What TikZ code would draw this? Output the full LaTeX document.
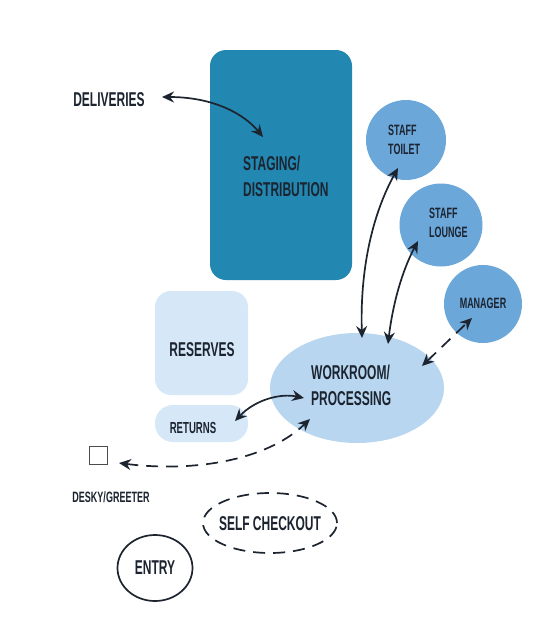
\documentclass[tikz,border=0pt]{standalone}
\usepackage{fontspec}
\setmainfont{Liberation Sans}[FakeStretch=0.6]
\usetikzlibrary{arrows.meta,shapes.geometric}
\definecolor{staging}{RGB}{34,136,178}
\definecolor{staff}{RGB}{108,167,218}
\definecolor{work}{RGB}{184,214,240}
\definecolor{pale}{RGB}{214,232,248}
\definecolor{ink}{RGB}{28,36,48}
\tikzset{
  lbl/.style={text=ink,font=\bfseries\fontsize{20}{26}\selectfont,align=left,inner sep=0pt},
  slbl/.style={text=ink,font=\bfseries\fontsize{15}{19}\selectfont,align=left,inner sep=0pt},
  conn/.style={draw=ink,line width=1.7pt,{Stealth[length=12pt,width=11pt,inset=4pt]}-{Stealth[length=12pt,width=11pt,inset=4pt]}},
  dconn/.style={conn,dash pattern=on 12pt off 8pt},
}
\begin{document}
\begin{tikzpicture}[x=1pt,y=-1pt]
\useasboundingbox[fill=white] (0,0) rectangle (551,619);
% shapes
\fill[staging,rounded corners=16pt] (210,50) rectangle (352,280);
\fill[pale,rounded corners=16pt] (155,291) rectangle (248,395);
\fill[pale,rounded corners=18pt] (155,405) rectangle (248,442);
\node[circle,fill=staff,minimum size=80pt,inner sep=0pt] (toilet) at (406,140) {};
\node[circle,fill=staff,minimum size=83pt,inner sep=0pt] (lounge) at (441,225) {};
\node[circle,fill=staff,minimum size=78pt,inner sep=0pt] (manager) at (483,304) {};
\node[ellipse,fill=work,minimum width=174pt,minimum height=110pt,inner sep=0pt] (work) at (357,388) {};
\node[ellipse,draw=ink,line width=1.7pt,dash pattern=on 12pt off 8pt,minimum width=134pt,minimum height=60pt,inner sep=0pt] (self) at (270,523) {};
\node[ellipse,draw=ink,line width=1.7pt,minimum width=75pt,minimum height=66pt,inner sep=0pt] (entry) at (155,568) {};
\node[draw=black!70,line width=0.8pt,minimum size=18pt,inner sep=0pt] (desk) at (98,455) {};
% texts
\node[lbl] (deliv) at (109,100) {DELIVERIES};
\node[lbl,anchor=west] (stag) at (243,176) {STAGING/\\DISTRIBUTION};
\node[lbl] (res) at (202,350) {RESERVES};
\node[slbl,font=\bfseries\fontsize{16}{19}\selectfont] (ret) at (193,428) {RETURNS};
\node[lbl,anchor=west] (worktxt) at (311,385) {WORKROOM/\\PROCESSING};
\node[slbl,anchor=west] (toilettxt) at (388,140) {STAFF\\TOILET};
\node[slbl,anchor=west] (loungetxt) at (429,223) {STAFF\\LOUNGE};
\node[slbl] (mantxt) at (483,303) {MANAGER};
\node[slbl] (desktxt) at (111,497) {DESKY/GREETER};
\node[lbl] (selftxt) at (270,524) {SELF CHECKOUT};
\node[lbl] (entrytxt) at (155,568) {ENTRY};
% connectors
\coordinate (d1) at (162,97);
\coordinate (d2) at (263,137);
\draw[conn] (d1) .. controls (215,97) and (245,115) .. (d2);
\coordinate (t1) at (398,168);
\coordinate (t2) at (362,338);
\draw[conn] (t2) .. controls (360,270) and (372,215) .. (t1);
\coordinate (l1) at (418,241);
\coordinate (l2) at (388,344);
\draw[conn] (l2) .. controls (392,310) and (400,275) .. (l1);
\coordinate (m1) at (472,318);
\coordinate (m2) at (422,366);
\draw[dconn] (m2) -- (m1);
\coordinate (r1) at (235,421);
\coordinate (r2) at (304,398);
\draw[conn] (r1) .. controls (255,400) and (280,393) .. (r2);
\coordinate (g1) at (119,463);
\coordinate (g2) at (310,419);
\draw[dconn] (g1) .. controls (190,472) and (265,462) .. (g2);
\end{tikzpicture}
\end{document}
